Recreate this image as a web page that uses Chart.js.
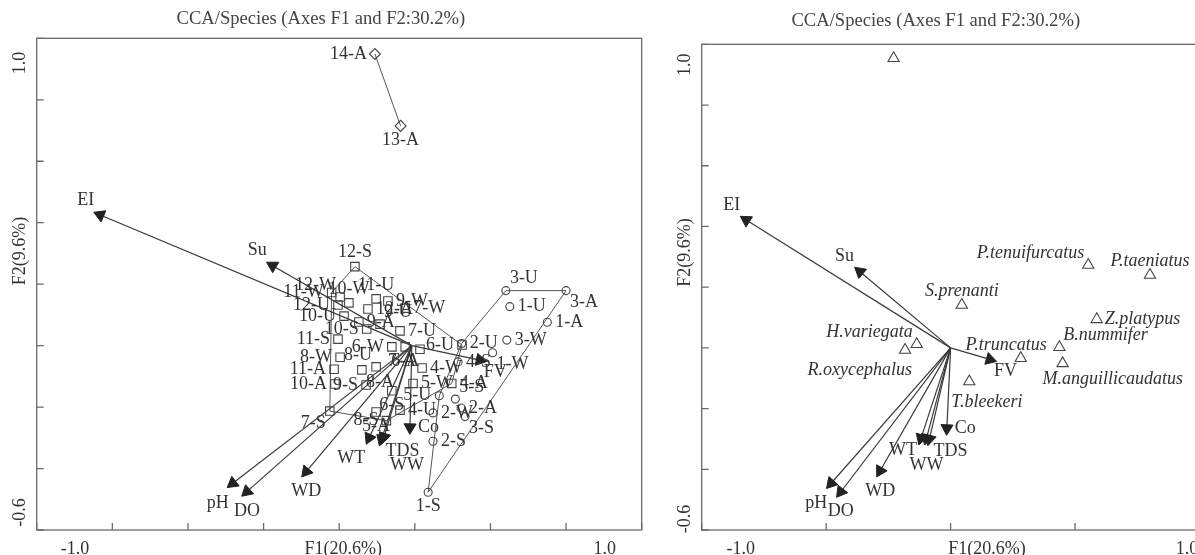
<!DOCTYPE html>
<html>
<head>
<meta charset="utf-8">
<title>CCA/Species biplots</title>
<script src="https://cdn.jsdelivr.net/npm/chart.js@4.4.1/dist/chart.umd.min.js"></script>
<style>
  html, body { margin: 0; padding: 0; background: #fff; overflow: hidden; }
  body { width: 1195px; height: 555px; position: relative; }
  canvas { position: absolute; top: 0; }
  #cLeft { left: 0; }
  #cRight { left: 672px; }
</style>
</head>
<body>
<canvas id="cLeft" width="660" height="555"></canvas>
<canvas id="cRight" width="543" height="555"></canvas>
<script>
// Titres et étiquettes d'axes
const TITLE = "CCA/Species (Axes F1 and F2:30.2%)";
const xLabelsText = ["-1.0", "F1(20.6%)", "1.0"];
const yLabelsText = ["1.0", "F2(9.6%)", "-0.6"];
const xLabelAtLeft = [-0.873, 0.013, 0.878];
const xLabelAtRight = [-0.843, 0.146, 0.95];
const yLabelAtLeft = [0.956, 0.419, -0.497];
const yLabelAtRight = [0.97, 0.427, -0.517];

// Graduations (petits traits vers l'intérieur)
const xTicksLeft = [-1, -0.75, -0.5, -0.25, 0, 0.25, 0.5, 0.75, 1];
const xTicksRight = [-1, -0.5, 0, 0.5, 1];
const yTicks = [-0.6, -0.4, -0.2, 0, 0.2, 0.4, 0.6, 0.8, 1.0];

// Variables environnementales (flèches)
const envNames = ["EI", "Su", "FV", "Co", "TDS", "WW", "WT", "WD", "pH", "DO"];
const envOriginLeft = [0.24, 0];
const envLeftX = [-0.790, -0.220, 0.465, 0.234, 0.140, 0.148, 0.099, -0.109, -0.352, -0.305];
const envLeftY = [0.425, 0.260, -0.047, -0.266, -0.305, -0.297, -0.300, -0.410, -0.448, -0.475];
const envOriginRight = [0, 0];
const envRightX = [-0.821, -0.364, 0.158, -0.015, -0.085, -0.097, -0.119, -0.283, -0.480, -0.441];
const envRightY = [0.421, 0.251, -0.038, -0.265, -0.300, -0.298, -0.298, -0.405, -0.446, -0.474];

// Sites (panneau de gauche)
const diamondSites = ["14-A", "13-A"];
const diamondX = [0.118, 0.203];
const diamondY = [0.949, 0.715];

const squareSites = ["12-S", "11-W", "12-W", "11-U", "10-W", "9-W", "7-W", "12-U", "12-A", "10-U", "9-A",
  "9-U", "11-S", "10-S", "7-U", "6-W", "6-A", "6-U", "7-A", "4-W", "8-W", "8-U", "8-A", "11-A", "7-S",
  "8-S", "4-A", "10-A", "9-S", "5-W", "6-S", "4-U", "5-A"];
const squareX = [0.052, -0.025, 0.003, 0.122, 0.032, 0.161, 0.218, -0.004, 0.095, 0.016, 0.065,
  0.135, -0.004, 0.091, 0.201, 0.174, 0.218, 0.406, 0.267, 0.274, 0.003, 0.122, 0.075, -0.017, -0.031,
  0.156, 0.372, -0.014, 0.089, 0.244, 0.174, 0.201, 0.122];
const squareY = [0.257, 0.173, 0.158, 0.152, 0.139, 0.145, 0.122, 0.132, 0.119, 0.096, 0.077,
  0.070, 0.021, 0.054, 0.048, -0.004, -0.004, 0.002, -0.012, -0.073, -0.038, -0.069, -0.079, -0.077, -0.213,
  -0.244, -0.123, -0.125, -0.128, -0.123, -0.147, -0.210, -0.216];

const circleSites = ["3-U", "3-A", "1-U", "1-A", "3-W", "1-W", "2-U", "4-S", "5-U", "5-S", "2-A", "3-S",
  "2-W", "2-S", "1-S"];
const circleX = [0.551, 0.750, 0.564, 0.688, 0.554, 0.507, 0.405, 0.393, 0.331, 0.384, 0.403, 0.416,
  0.310, 0.310, 0.294];
const circleY = [0.179, 0.179, 0.127, 0.076, 0.018, -0.023, 0.007, -0.053, -0.163, -0.174, -0.203, -0.231,
  -0.219, -0.311, -0.477];

// Enveloppes des groupes
const squareHull = ["12-S", "6-U", "4-A", "8-S", "7-S", "11-W", "12-S"];
const circleHull = ["3-U", "3-A", "1-S", "5-U", "2-U", "3-U"];
const diamondHull = ["14-A", "13-A"];

// Espèces (panneau de droite)
const speciesNames = ["", "P.tenuifurcatus", "P.taeniatus", "S.prenanti", "Z.platypus", "H.variegata",
  "R.oxycephalus", "P.truncatus", "B.nummifer", "M.anguillicaudatus", "T.bleekeri"];
const speciesX = [-0.229, 0.553, 0.801, 0.045, 0.587, -0.136, -0.183, 0.282, 0.437, 0.450, 0.075];
const speciesY = [0.954, 0.273, 0.240, 0.141, 0.094, 0.012, -0.007, -0.034, 0.002, -0.051, -0.111];

// Placement des étiquettes (style)
const envLeftPos = ["tl2", "tl2", "br", "r", "br", "bbr", "bl2", "b2", "bl2", "b2"];
const envRightPos = ["tl2", "tl2", "br", "r", "br", "bb", "bl", "b2", "bl2", "b2"];
const diamondPos = ["l", "b"];
const squarePos = ["t", "l", "tl", "t", "t", "r", "r", "l", "r", "l", "r",
  "tr", "l", "l", "r", "l", "b", "l", "bl", "r", "l", "tl", "br", "l", "bl",
  "l", "r", "l", "l", "r", "b", "r", "b"];
const circlePos = ["tr", "br", "r", "r", "r", "br", "r", "r", "l", "tr", "r", "br", "r", "r", "b"];
const speciesPos = ["t", "tl", "t", "t", "r", "tl", "blR", "tL", "tr", "bR", "bR2"];

const LABEL_DIRS = {
  t: [0, -14, "center"], b: [0, 14, "center"], l: [-8, 0, "right"], r: [8, 0, "left"],
  tl: [-4, -12, "right"], tr: [4, -12, "left"], bl: [-4, 12, "right"], br: [4, 12, "left"],
  tl2: [-6, -15, "right"], b2: [0, 20, "center"], bl2: [-4, 20, "right"],
  bb: [0, 27, "center"], bbr: [6, 28, "left"],
  tL: [26, -13, "right"], bR: [-20, 16, "left"], bR2: [-18, 21, "left"], blR: [7, 20, "right"]
};
const SERIF = "'Liberation Serif', 'Times New Roman', serif";
Chart.defaults.font.family = SERIF;

const pts = (xs, ys) => xs.map((x, i) => ({ x: x, y: ys[i] }));

function hullPts(order, names, xs, ys) {
  return order.map(n => {
    const i = names.indexOf(n);
    return { x: xs[i], y: ys[i] };
  });
}

// Cadre + graduations intérieures
const framePlugin = {
  id: "frame",
  beforeDatasetsDraw(chart, args, opts) {
    const { ctx, chartArea: a } = chart;
    const xs = chart.scales.x, ys = chart.scales.y;
    ctx.save();
    ctx.strokeStyle = "#6a6a6a";
    ctx.lineWidth = 1.3;
    ctx.strokeRect(a.left, a.top, a.right - a.left, a.bottom - a.top);
    ctx.beginPath();
    opts.xTicks.forEach(v => {
      const px = xs.getPixelForValue(v);
      ctx.moveTo(px, a.bottom);
      ctx.lineTo(px, a.bottom - 7);
    });
    opts.yTicks.forEach(v => {
      const py = ys.getPixelForValue(v);
      ctx.moveTo(a.left, py);
      ctx.lineTo(a.left + 7, py);
    });
    ctx.stroke();
    ctx.restore();
  }
};

// Étiquettes des points
const labelPlugin = {
  id: "pointText",
  afterDatasetsDraw(chart) {
    const ctx = chart.ctx;
    chart.data.datasets.forEach((ds, i) => {
      if (!ds.pointText) return;
      const meta = chart.getDatasetMeta(i);
      ctx.save();
      ctx.font = (ds.italic ? "italic " : "") + "18px " + SERIF;
      ctx.fillStyle = "#333";
      ctx.textBaseline = "middle";
      meta.data.forEach((el, j) => {
        const d = LABEL_DIRS[ds.textPos[j]] || LABEL_DIRS.r;
        ctx.textAlign = d[2];
        ctx.fillText(ds.pointText[j], el.x + d[0], el.y + d[1]);
      });
      ctx.restore();
    });
  }
};

function markerSet(xs, ys, names, pos, style, radius, italic) {
  return {
    data: pts(xs, ys), pointStyle: style, pointRadius: radius,
    borderColor: "#444", borderWidth: 1.1, backgroundColor: "rgba(0,0,0,0)",
    pointText: names, textPos: pos, italic: !!italic
  };
}

function headSet(xs, ys, pos, origin) {
  return {
    data: pts(xs, ys), pointStyle: "triangle", pointRadius: 7,
    backgroundColor: "#222", borderColor: "#222", borderWidth: 1,
    rotation: c => {
      if (!c.raw) return 0;
      const sx = c.chart.scales.x, sy = c.chart.scales.y;
      const dx = sx.getPixelForValue(c.raw.x) - sx.getPixelForValue(origin[0]);
      const dy = sy.getPixelForValue(c.raw.y) - sy.getPixelForValue(origin[1]);
      return Math.atan2(dx, -dy) * 180 / Math.PI;
    },
    pointText: envNames, textPos: pos
  };
}

function shaft(origin, x, y) {
  return {
    data: [{ x: origin[0], y: origin[1] }, { x: x, y: y }],
    showLine: true, borderColor: "#3a3a3a", borderWidth: 1.2, pointRadius: 0, tension: 0
  };
}

function hullLine(points) {
  return { data: points, showLine: true, borderColor: "#555", borderWidth: 1, pointRadius: 0, tension: 0 };
}

function makeChart(id, p) {
  return new Chart(document.getElementById(id), {
    type: "scatter",
    data: { datasets: p.datasets },
    options: {
      responsive: false,
      animation: false,
      events: [],
      layout: { padding: { top: 0, left: 0, bottom: 0, right: p.padRight }, autoPadding: false },
      plugins: {
        legend: { display: false },
        tooltip: { enabled: false },
        title: {
          display: true, text: TITLE, color: "#444",
          font: { family: SERIF, size: 18.6, weight: "normal" },
          padding: { top: p.titleTop, bottom: p.titleBottom }
        },
        frame: { xTicks: p.xTicks, yTicks: yTicks }
      },
      scales: {
        x: {
          type: "linear", min: -1, max: 1, bounds: "data", position: "bottom",
          grid: { display: false, drawTicks: false }, border: { display: false },
          afterBuildTicks: s => { s.ticks = p.xLabelAt.map(v => ({ value: v })); },
          afterFit: s => { s.height = 25; s.paddingLeft = 0; s.paddingRight = 0; },
          ticks: {
            autoSkip: false, minRotation: 0, maxRotation: 0, padding: 8, color: "#333",
            font: { family: SERIF, size: 18 },
            callback: (v, i) => xLabelsText[i]
          }
        },
        y: {
          type: "linear", min: -0.6, max: 1.0, bounds: "data", position: "left",
          grid: { display: false, drawTicks: false }, border: { display: false },
          afterBuildTicks: s => { s.ticks = p.yLabelAt.map(v => ({ value: v })); },
          afterFit: s => { s.width = p.yWidth; s.paddingTop = 0; s.paddingBottom = 0; },
          ticks: {
            autoSkip: false, minRotation: 90, maxRotation: 90, crossAlign: "near",
            padding: p.yPad, color: "#333",
            font: { family: SERIF, size: 18 },
            callback: (v, i) => yLabelsText[i]
          }
        }
      }
    },
    plugins: [framePlugin, labelPlugin]
  });
}

// Panneau gauche : sites
makeChart("cLeft", {
  padRight: 18.3, titleTop: 7.7, titleBottom: 8.3, yWidth: 36.7, yPad: 16,
  xTicks: xTicksLeft, xLabelAt: xLabelAtLeft, yLabelAt: yLabelAtLeft,
  datasets: [
    markerSet(diamondX, diamondY, diamondSites, diamondPos, "rectRot", 5.5),
    markerSet(squareX, squareY, squareSites, squarePos, "rect", 6),
    markerSet(circleX, circleY, circleSites, circlePos, "circle", 4),
    headSet(envLeftX, envLeftY, envLeftPos, envOriginLeft),
    ...envNames.map((n, i) => shaft(envOriginLeft, envLeftX[i], envLeftY[i])),
    hullLine(hullPts(squareHull, squareSites, squareX, squareY)),
    hullLine(hullPts(circleHull, circleSites, circleX, circleY)),
    hullLine(hullPts(diamondHull, diamondSites, diamondX, diamondY))
  ]
});

// Panneau droit : espèces
makeChart("cRight", {
  padRight: 15.5, titleTop: 9.7, titleBottom: 12.3, yWidth: 29.7, yPad: 16.7,
  xTicks: xTicksRight, xLabelAt: xLabelAtRight, yLabelAt: yLabelAtRight,
  datasets: [
    markerSet(speciesX, speciesY, speciesNames, speciesPos, "triangle", 6.5, true),
    headSet(envRightX, envRightY, envRightPos, envOriginRight),
    ...envNames.map((n, i) => shaft(envOriginRight, envRightX[i], envRightY[i]))
  ]
});
</script>
</body>
</html>
